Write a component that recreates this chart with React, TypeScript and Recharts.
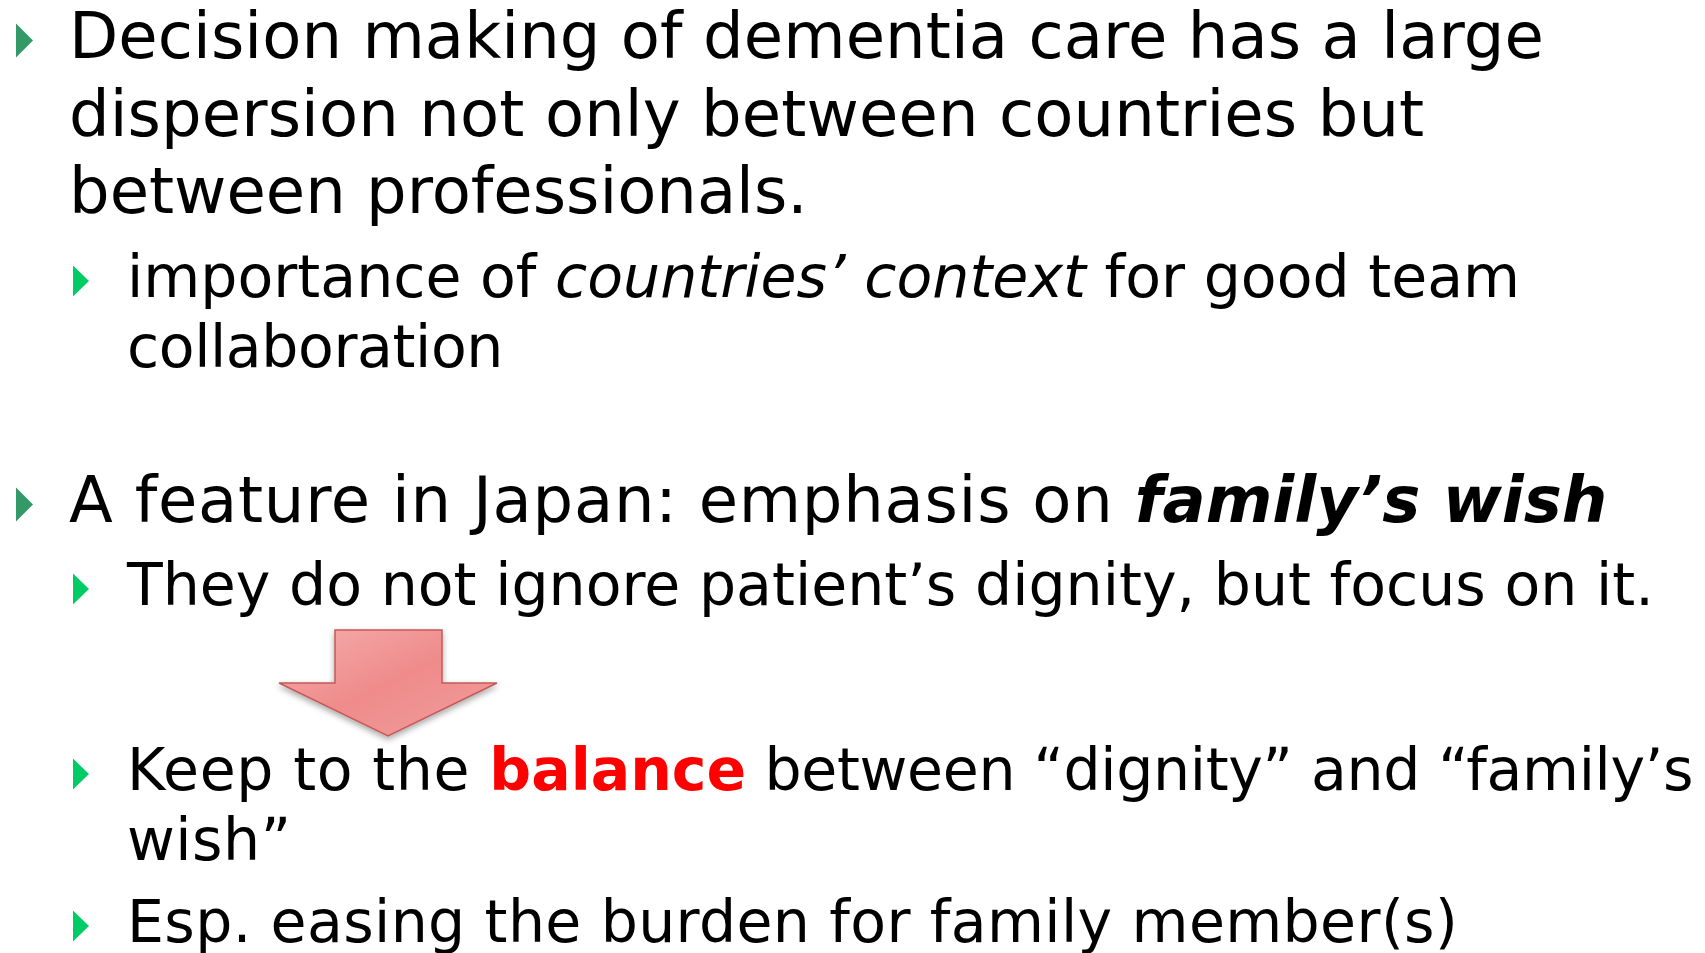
import React from 'react';
import { ComposedChart, Customized } from 'recharts';

// slide content: one entry per printed line
type Seg = { text: string; italic?: boolean; bold?: boolean; color?: string };
type Row = { level: 1 | 2; bullet: boolean; segs: Seg[] };

const rows: Row[] = [
  { level: 1, bullet: true, segs: [{ text: 'Decision making of dementia care has a large' }] },
  { level: 1, bullet: false, segs: [{ text: 'dispersion not only between countries but' }] },
  { level: 1, bullet: false, segs: [{ text: 'between professionals.' }] },
  {
    level: 2,
    bullet: true,
    segs: [
      { text: 'importance of ' },
      { text: 'countries\u2019 context', italic: true },
      { text: ' for good team' },
    ],
  },
  { level: 2, bullet: false, segs: [{ text: 'collaboration' }] },
  {
    level: 1,
    bullet: true,
    segs: [
      { text: 'A feature in Japan: emphasis on ' },
      { text: 'family\u2019s wish', italic: true, bold: true },
    ],
  },
  { level: 2, bullet: true, segs: [{ text: 'They do not ignore patient\u2019s dignity, but focus on it.' }] },
  {
    level: 2,
    bullet: true,
    segs: [
      { text: 'Keep to the ' },
      { text: 'balance', bold: true, color: '#FF0000' },
      { text: ' between \u201Cdignity\u201D and \u201Cfamily\u2019s' },
    ],
  },
  { level: 2, bullet: false, segs: [{ text: 'wish\u201D' }] },
  { level: 2, bullet: true, segs: [{ text: 'Esp. easing the burden for family member(s)' }] },
];

// layout (px)
const W = 1705;
const H = 953;
const ROW_BASELINE = [58, 135.5, 213, 297, 367, 522, 605, 790, 860, 942];
// small tracking tweaks per row (per segment where given as array)
const ROW_TRACKING: (number | number[])[] = [0.07, 0.1, 0, 0.02, -0.4, [0.75, 0], 0.02, [0.6, 0, -0.32], 0.5, 0.37];
const STYLE = {
  1: { x: 69, size: 64, bx: 16, bw: 17, bh: 34, color: '#339966' },
  2: { x: 127, size: 58.5, bx: 73, bw: 16, bh: 31, color: '#00CC66' },
};
const FONT = '"DejaVu Sans", Verdana, sans-serif';

const Slide = () => (
  <g>
    <defs>
      <linearGradient id="arrowFill" x1="0" y1="0" x2="1" y2="1">
        <stop offset="0%" stopColor="#F5AEAE" />
        <stop offset="50%" stopColor="#EF8B8B" />
        <stop offset="100%" stopColor="#F29D9D" />
      </linearGradient>
      <filter id="arrowShadow" x="-20%" y="-20%" width="140%" height="150%">
        <feDropShadow dx="0" dy="3" stdDeviation="3" floodColor="#000" floodOpacity="0.35" />
      </filter>
    </defs>

    {rows.map((r, i) => {
      const s = STYLE[r.level];
      const b = ROW_BASELINE[i];
      const tr = ROW_TRACKING[i];
      return (
        <g key={i}>
          {r.bullet && (
            <polygon
              points={`${s.bx},${b - s.bh - 0.5} ${s.bx + s.bw},${b - s.bh / 2 - 0.5} ${s.bx},${b - 0.5}`}
              fill={s.color}
            />
          )}
          <text x={s.x} y={b} fontFamily={FONT} fontSize={s.size} fill="#000">
            {r.segs.map((g, j) => (
              <tspan
                key={j}
                fontStyle={g.italic ? 'italic' : 'normal'}
                fontWeight={g.bold ? 'bold' : 'normal'}
                fill={g.color || '#000'}
                letterSpacing={Array.isArray(tr) ? tr[j] : tr}
              >
                {g.text}
              </tspan>
            ))}
          </text>
        </g>
      );
    })}

    {/* down arrow between the two sub-points */}
    <path
      d="M335,630 H442 V683 H497 L388,736 L279,683 H335 Z"
      fill="url(#arrowFill)"
      stroke="#C55A58"
      strokeWidth={1.5}
      filter="url(#arrowShadow)"
    />
  </g>
);

export default function App() {
  return (
    <div style={{ position: 'absolute', left: 0, top: 0, width: W, height: H, background: '#fff' }}>
      <ComposedChart width={W} height={H} data={rows} margin={{ top: 0, right: 0, bottom: 0, left: 0 }}>
        <Customized component={Slide} />
      </ComposedChart>
    </div>
  );
}
